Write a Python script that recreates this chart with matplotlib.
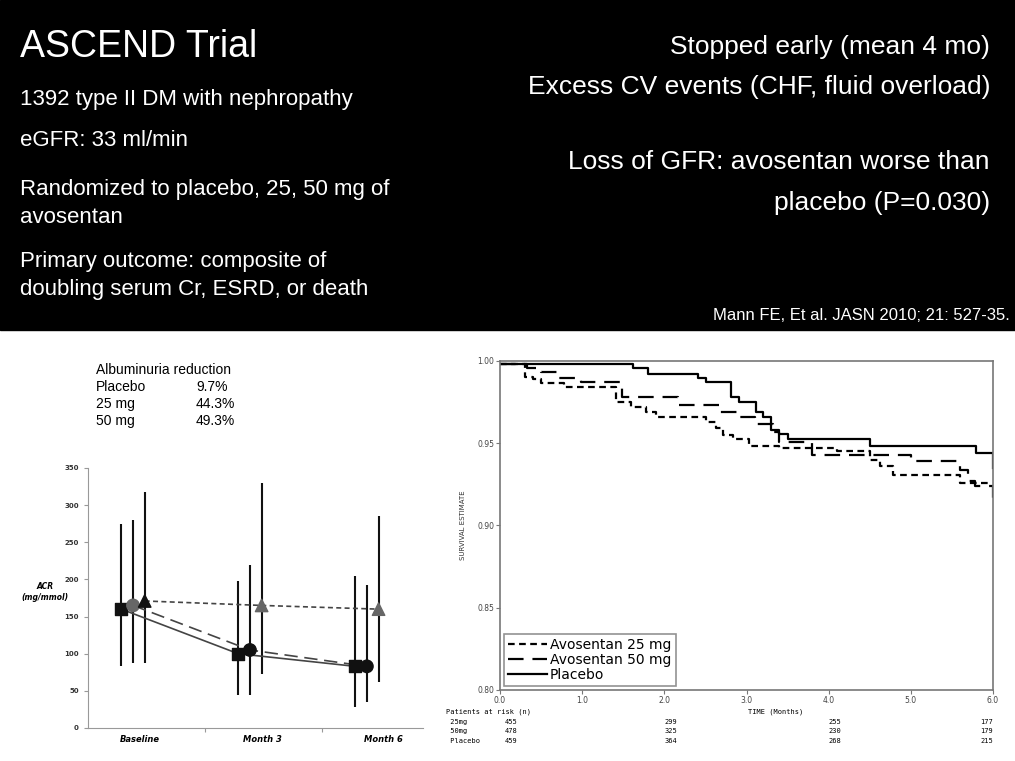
import matplotlib
matplotlib.use("Agg")
import matplotlib.pyplot as plt
from matplotlib.patches import Rectangle

W, H = 1015, 761
# ---------------- data ----------------
acr_cats = ["Baseline", "Month 3", "Month 6"]
acr_sq = [160, 100, 83]; acr_sq_lo = [83, 45, 28]; acr_sq_hi = [275, 198, 204]
acr_ci = [165, 105, 83]; acr_ci_lo = [88, 45, 35]; acr_ci_hi = [280, 220, 193]
acr_tr = [171, 165, 160]; acr_tr_lo = [88, 73, 62]; acr_tr_hi = [318, 330, 286]
acr_yticks = [0, 50, 100, 150, 200, 250, 300, 350]

pl_t = [0, 1.62, 1.80, 2.41, 2.51, 2.81, 2.91, 3.11, 3.20, 3.30, 3.40, 3.50, 4.50, 5.79, 6.0]
pl_s = [0.998, 0.9955, 0.992, 0.9895, 0.987, 0.978, 0.975, 0.969, 0.966, 0.958, 0.9556, 0.9524, 0.9483, 0.944, 0.935]
a25_t = [0, 0.30, 0.40, 0.50, 0.78, 1.41, 1.60, 1.78, 1.90, 2.51, 2.63, 2.71, 2.83, 3.03, 3.40, 4.10, 4.50, 4.62, 4.78, 5.60, 5.98]
a25_s = [0.998, 0.9905, 0.989, 0.9864, 0.984, 0.9753, 0.972, 0.969, 0.9661, 0.963, 0.959, 0.955, 0.9524, 0.9483, 0.947, 0.945, 0.940, 0.936, 0.931, 0.926, 0.925]
a50_t = [0, 0.33, 0.50, 0.70, 0.98, 1.48, 2.17, 2.68, 2.89, 3.10, 3.32, 3.40, 3.80, 5.00, 5.60, 5.70, 5.78, 6.0]
a50_s = [0.998, 0.9955, 0.9935, 0.9895, 0.987, 0.978, 0.973, 0.969, 0.966, 0.962, 0.957, 0.951, 0.943, 0.939, 0.934, 0.927, 0.924, 0.913]
risk_t = [0, 2, 4, 6]
risk_25 = [455, 299, 255, 177]
risk_50 = [478, 325, 230, 179]
risk_pl = [459, 364, 268, 215]

fig = plt.figure(figsize=(W/100, H/100), dpi=100)
fig.patch.set_facecolor("white")
def ax_px(x0, y0, x1, y1):
    return fig.add_axes([x0/W, 1-y1/H, (x1-x0)/W, (y1-y0)/H])
def tx(x, y, s, **kw):
    fig.text(x/W, 1-y/H, s, **kw)

# black band
fig.patches.append(Rectangle((0, 1-330/H), 1, 330/H, transform=fig.transFigure, color="black", zorder=0))
F = "Liberation Sans"
tx(20, 47, "ASCEND Trial", color="white", fontsize=27, family=F, va="center")
for y, s in [(100, "1392 type II DM with nephropathy"), (141, "eGFR: 33 ml/min"),
             (189, "Randomized to placebo, 25, 50 mg of"), (217, "avosentan"),
             (261, "Primary outcome: composite of"), (290, "doubling serum Cr, ESRD, or death")]:
    tx(20, y, s, color="white", fontsize=16, family=F, va="center")
for y, s in [(47, "Stopped early (mean 4 mo)"), (87, "Excess CV events (CHF, fluid overload)"),
             (162, "Loss of GFR: avosentan worse than"), (203, "placebo (P=0.030)")]:
    tx(990, y, s, color="white", fontsize=19, family=F, va="center", ha="right")
tx(1010, 316, "Mann FE, Et al. JASN 2010; 21: 527-35.", color="white", fontsize=12, family=F, va="center", ha="right")

# albuminuria table
for y, a, b in [(370, "Albuminuria reduction", ""), (387, "Placebo", "9.7%"),
                (404, "25 mg", "44.3%"), (421, "50 mg", "49.3%")]:
    tx(96, y, a, fontsize=10, family=F, va="center")
    tx(196, y, b, fontsize=10, family=F, va="center")

# ---------------- left chart ----------------
ax = ax_px(88, 468, 423, 728)
xs = [0, 1, 2]
d = 0.1
ax.plot([x-d for x in xs], acr_sq, color="#444", lw=1.2, zorder=2)
ax.plot(xs, acr_ci, color="#444", lw=1.2, ls=(0, (8, 4)), zorder=2)
ax.plot([x+d for x in xs], acr_tr, color="#444", lw=1.2, ls=(0, (3, 2)), zorder=2)
for off, lo, hi in [(-d, acr_sq_lo, acr_sq_hi), (0, acr_ci_lo, acr_ci_hi), (d, acr_tr_lo, acr_tr_hi)]:
    ax.vlines([x+off for x in xs], lo, hi, color="#111", lw=1.5, zorder=1)
ax.scatter([x-d for x in xs], acr_sq, marker="s", s=80, color="#111", zorder=3)
ax.scatter(xs, acr_ci, marker="o", s=80, color=["#666", "#111", "#111"], zorder=3)
ax.scatter([x+d for x in xs], acr_tr, marker="^", s=80, color=["#111", "#666", "#666"], zorder=3)
ax.set_xlim(-0.385, 2.48); ax.set_ylim(0, 350)
ax.set_yticks(acr_yticks)
ax.set_yticklabels([str(v) for v in acr_yticks], fontsize=5, fontweight="bold", color="#333")
ax.set_xticks([0.615, 1.615]); ax.set_xticklabels([])
ax.tick_params(length=3, color="#999")
for sp in ["top", "right"]:
    ax.spines[sp].set_visible(False)
for sp in ["left", "bottom"]:
    ax.spines[sp].set_color("#999")
for xp, s in [(140, "Baseline"), (262, "Month 3"), (383, "Month 6")]:
    tx(xp, 739, s, fontsize=6, fontweight="bold", style="italic", ha="center", va="center")
tx(45, 592, "ACR\n(mg/mmol)", fontsize=5.5, fontweight="bold", style="italic", ha="center", va="center")

# ---------------- right chart ----------------
ax2 = ax_px(500, 361, 993, 690)
ax2.step(a25_t, a25_s, where="post", color="black", lw=1.6, ls=(0, (3, 2)), label="Avosentan 25 mg")
ax2.step(a50_t, a50_s, where="post", color="black", lw=1.6, ls=(0, (7, 4)), label="Avosentan 50 mg")
ax2.step(pl_t, pl_s, where="post", color="black", lw=1.6, label="Placebo")
ax2.set_xlim(0, 6); ax2.set_ylim(0.80, 1.00)
ax2.set_xticks([0, 1, 2, 3, 4, 5, 6])
ax2.set_xticklabels(["0.0", "1.0", "2.0", "3.0", "4.0", "5.0", "6.0"], fontsize=5.5, color="#444")
ax2.set_yticks([0.80, 0.85, 0.90, 0.95, 1.00])
ax2.set_yticklabels(["0.80", "0.85", "0.90", "0.95", "1.00"], fontsize=5.5, color="#444")
ax2.tick_params(length=3, pad=1, color="#777")
for sp in ax2.spines.values():
    sp.set_color("#777"); sp.set_linewidth(1.2)
ax2.set_ylabel("SURVIVAL ESTIMATE", fontsize=5, color="#333", labelpad=8)
leg = ax2.legend(loc="lower left", fontsize=10, frameon=True, fancybox=False, handlelength=2.8,
                 borderaxespad=0.3, handletextpad=0.2, labelspacing=0.05, borderpad=0.3, prop={"family": "DejaVu Sans", "size": 10})
leg.get_frame().set_edgecolor("#777"); leg.get_frame().set_linewidth(1.2)

mono = "DejaVu Sans Mono"
tx(446, 712, "Patients at risk (n)", fontsize=5, family=mono, va="center")
tx(748, 712, "TIME (Months)", fontsize=5, family=mono, va="center")
for y, name, vals in [(722, " 25mg", risk_25), (731, " 50mg", risk_50), (741, " Placebo", risk_pl)]:
    tx(446, y, name, fontsize=5, family=mono, va="center")
    for t, v in zip(risk_t, vals):
        xp = 500 + t * (493/6)
        tx(xp + (0 if t > 0 else 5), y, str(v), fontsize=5, family=mono, va="center",
           ha="right" if t == 6 else "left")

fig.savefig("out.png", dpi=100)
